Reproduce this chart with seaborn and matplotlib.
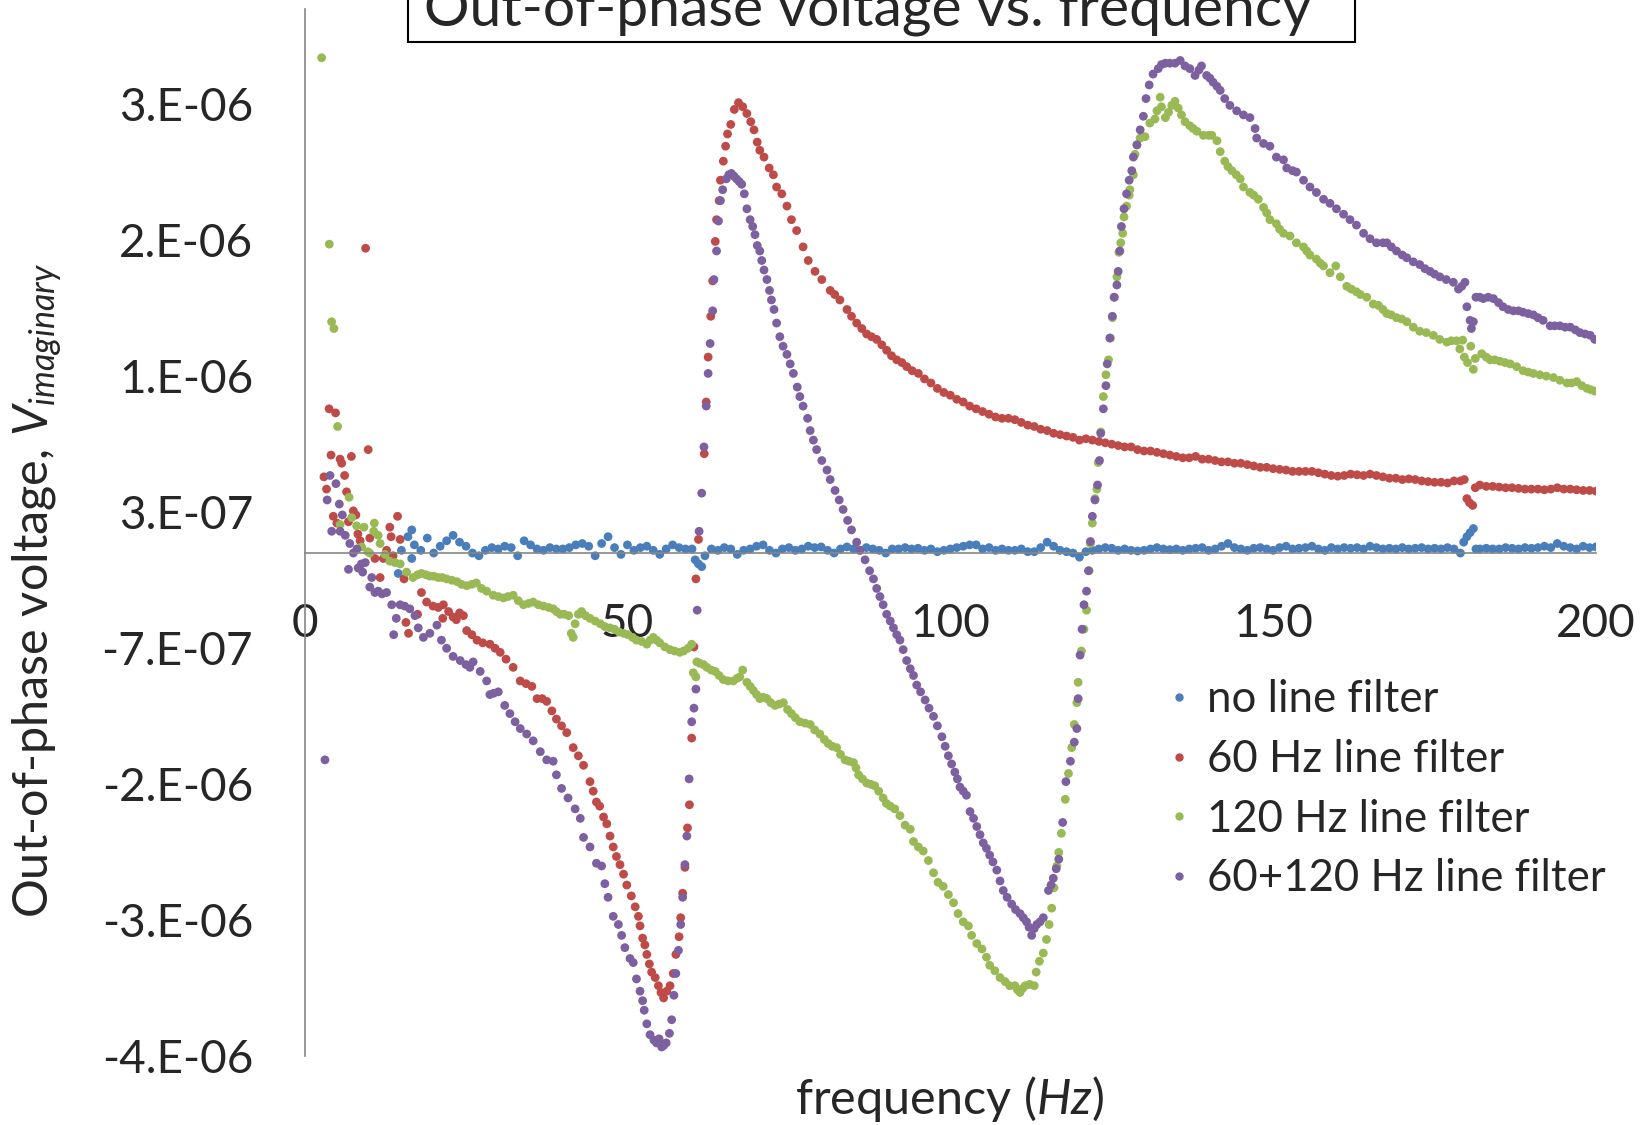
"""Out-of-phase voltage vs. frequency for four line-filter settings (lock-in sweep)."""
import pandas as pd
import matplotlib
matplotlib.use("Agg")
import matplotlib.pyplot as plt
import seaborn as sns
from matplotlib.lines import Line2D
from matplotlib.patches import Rectangle

# frequency in Hz, out-of-phase voltage in microvolts
blue_f = [
    15, 16, 17, 18, 19, 20, 21, 22, 23, 24,
    25, 26, 27, 28, 29, 30, 31, 32, 33, 34,
    35, 36, 37, 38, 39, 40, 41, 42, 43, 44,
    45, 46, 47, 48, 49, 50, 51, 52, 53, 54,
    55, 56, 57, 58, 59, 60, 61, 62, 63, 64,
    65, 66, 67, 68, 69, 70, 71, 72, 73, 74,
    75, 76, 77, 78, 79, 80, 81, 82, 83, 84,
    85, 86, 87, 88, 89, 90, 91, 92, 93, 94,
    95, 96, 97, 98, 99, 100, 101, 102, 103, 104,
    105, 106, 107, 108, 109, 110, 111, 112, 113, 114,
    115, 116, 117, 118, 119, 120, 121, 122, 123, 124,
    125, 126, 127, 128, 129, 130, 131, 132, 133, 134,
    135, 136, 137, 138, 139, 140, 141, 142, 143, 144,
    145, 146, 147, 148, 149, 150, 151, 152, 153, 154,
    155, 156, 157, 158, 159, 160, 161, 162, 163, 164,
    165, 166, 167, 168, 169, 170, 171, 172, 173, 174,
    175, 176, 177, 178, 179, 180, 181, 182, 183, 184,
    185, 186, 187, 188, 189, 190, 191, 192, 193, 194,
    195, 196, 197, 198, 199, 200,
    14.5, 16.6, 16.6, 60.5, 61.5, 179.5, 180.5, 181.4,
]
blue_v = [
    0.02, 0.12, 0.06, 0.02, 0.11, 0.00, 0.05, 0.09, 0.13, 0.08,
    0.05, 0.00, -0.02, 0.02, 0.04, 0.03, 0.05, 0.04, -0.02, 0.09,
    0.06, 0.03, 0.02, 0.04, 0.03, 0.03, 0.04, 0.06, 0.07, 0.05,
    -0.02, 0.07, 0.12, 0.04, -0.01, 0.06, 0.02, 0.04, 0.05, 0.02,
    -0.01, 0.03, 0.06, 0.04, 0.03, 0.03, -0.08, -0.02, 0.03, 0.02,
    0.04, 0.03, -0.01, 0.02, 0.03, 0.05, 0.06, 0.02, 0.00, 0.03,
    0.04, 0.02, 0.03, 0.05, 0.04, 0.045, 0.02, 0.00, 0.03, 0.045,
    0.03, 0.02, 0.04, 0.03, 0.02, 0.00, 0.03, 0.03, 0.04, 0.03,
    0.035, 0.02, 0.03, 0.01, 0.02, 0.03, 0.04, 0.05, 0.06, 0.06,
    0.03, 0.04, 0.02, 0.03, 0.02, 0.02, 0.03, 0.01, 0.01, 0.04,
    0.08, 0.05, 0.02, 0.01, 0.00, -0.03, 0.01, 0.02, 0.03, 0.04,
    0.035, 0.02, 0.03, 0.02, 0.015, 0.02, 0.03, 0.04, 0.03, 0.025,
    0.03, 0.02, 0.03, 0.035, 0.04, 0.02, 0.03, 0.05, 0.07, 0.04,
    0.03, 0.02, 0.035, 0.04, 0.03, 0.02, 0.04, 0.05, 0.03, 0.035,
    0.04, 0.05, 0.03, 0.02, 0.04, 0.03, 0.04, 0.035, 0.04, 0.03,
    0.05, 0.04, 0.03, 0.035, 0.03, 0.04, 0.03, 0.035, 0.04, 0.03,
    0.035, 0.03, 0.04, 0.03, 0.00, 0.12, 0.18, 0.03, 0.035, 0.03,
    0.03, 0.04, 0.035, 0.03, 0.04, 0.035, 0.04, 0.05, 0.04, 0.07,
    0.05, 0.04, 0.03, 0.05, 0.04, 0.045,
    -0.15, 0.17, -0.04, -0.05, -0.10, 0.08, 0.15, 0.03,
]

red_f = [
    3.0, 3.4, 3.8, 4.1, 4.45, 4.8, 5.0, 5.5, 5.75, 6.2,
    6.5, 6.8, 7.25, 7.55, 7.95, 8.25, 8.6, 9.45, 9.85, 10.1,
    10.9, 11.7, 12.2, 12.7, 13.2, 13.4, 13.7, 14.4, 14.8, 15.4,
    15.7, 16.1, 17.5, 18.1, 18.9, 19.9, 20.7, 21.4, 21.5, 22.3,
    23.0, 23.5, 24.0, 24.6, 25.1, 25.9, 26.7, 27.6, 28.7, 29.5,
    30.3, 31.2, 32.3, 33.4, 34.3, 35.2, 36.0, 36.8, 37.5, 38.3,
    39.0, 39.8, 40.6, 41.6, 42.4, 43.2, 44.2, 44.7, 45.2, 45.7,
    46.3, 46.8, 47.3, 47.8, 48.3, 48.85, 49.4, 49.9, 50.6, 51.2,
    51.7, 51.95, 52.35, 52.7, 53.0, 53.4, 53.75, 54.3, 54.8, 55.2,
    55.6, 56.1, 56.6, 57.1, 57.5, 58.0, 58.25, 58.55, 58.9, 59.3,
    59.6, 59.95, 60.3, 60.6, 61.0, 61.9, 62.2, 62.5, 62.9, 63.2,
    63.6, 63.8, 64.2, 64.4, 64.85, 65.2, 65.5, 66.0, 66.55, 67.2,
    67.85, 68.5, 69.1, 69.6, 70.1, 70.5, 71.15, 71.95, 72.6, 73.1,
    73.9, 74.7, 75.4, 76.2, 77.2, 78.0, 79.05, 80.1, 81.4, 82.1,
    82.9, 84.0, 84.7, 85.5, 86.3, 87.05, 87.8, 88.6, 89.4, 90.15,
    90.9, 91.7, 92.5, 93.25, 94.1, 95.05, 96, 97, 98, 99,
    100, 101, 102, 103, 104, 105, 106, 107, 108, 109,
    110, 111, 112, 113, 114, 115, 116, 117, 118, 119,
    120, 121, 122, 123, 124, 125, 126, 127, 128, 129,
    130, 131, 132, 133, 134, 135, 136, 137, 138, 139,
    140, 141, 142, 143, 144, 145, 146, 147, 148, 149,
    150, 151, 152, 153, 154, 155, 156, 157, 158, 159,
    160, 161, 162, 163, 164, 165, 166, 167, 168, 169,
    170, 171, 172, 173, 174, 175, 176, 177, 178, 179,
    179.6, 180.0, 180.4, 180.9, 181.3,
    182, 183, 184, 185, 186, 187, 188, 189, 190, 191,
    192, 193, 194, 195, 196, 197, 198, 199, 200,
]
red_v = [
    0.56, 0.47, 1.06, 0.72, 0.27, 1.03, 0.22, 0.69, 0.66, 0.57,
    0.45, 0.23, 0.71, 0.31, 0.28, 0.14, 0.09, 2.24, 0.76, 0.11,
    -0.04, -0.18, -0.04, 0.02, 0.19, 0.12, -0.02, 0.27, 0.10, -0.19,
    -0.51, -0.59, -0.45, -0.29, -0.36, -0.39, -0.40, -0.48, -0.38, -0.43,
    -0.47, -0.49, -0.44, -0.46, -0.57, -0.60, -0.64, -0.66, -0.67, -0.70,
    -0.73, -0.78, -0.84, -0.94, -0.96, -0.98, -1.07, -1.07, -1.09, -1.16,
    -1.22, -1.27, -1.32, -1.43, -1.49, -1.56, -1.68, -1.75, -1.83, -1.86,
    -1.94, -1.99, -2.08, -2.16, -2.23, -2.29, -2.36, -2.44, -2.52, -2.60,
    -2.67, -2.74, -2.83, -2.88, -2.95, -3.02, -3.08, -3.12, -3.18, -3.23,
    -3.27, -3.22, -3.18, -3.09, -2.95, -2.82, -2.68, -2.50, -2.31, -2.02,
    -1.85, -1.36, -0.69, -0.19, 0.10, 0.73, 1.11, 1.44, 1.74, 2.00,
    2.29, 2.45, 2.59, 2.74, 2.88, 2.99, 3.08, 3.15, 3.26, 3.31,
    3.28, 3.23, 3.17, 3.11, 3.02, 2.96, 2.91, 2.83, 2.78, 2.69,
    2.64, 2.55, 2.45, 2.37, 2.25, 2.15, 2.07, 2.01, 1.93, 1.90,
    1.86, 1.79, 1.74, 1.69, 1.65, 1.61, 1.59, 1.57, 1.53, 1.49,
    1.45, 1.42, 1.40, 1.37, 1.34, 1.32, 1.28, 1.25, 1.21, 1.18,
    1.16, 1.13, 1.11, 1.08, 1.06, 1.04, 1.02, 1.00, 0.99, 0.99,
    0.98, 0.96, 0.94, 0.93, 0.91, 0.90, 0.88, 0.87, 0.86, 0.85,
    0.83, 0.84, 0.83, 0.82, 0.81, 0.80, 0.79, 0.78, 0.78, 0.76,
    0.75, 0.75, 0.74, 0.73, 0.72, 0.71, 0.70, 0.70, 0.71, 0.69,
    0.69, 0.68, 0.67, 0.67, 0.66, 0.66, 0.65, 0.64, 0.63, 0.63,
    0.62, 0.615, 0.61, 0.60, 0.60, 0.60, 0.60, 0.59, 0.58, 0.57,
    0.565, 0.57, 0.58, 0.575, 0.57, 0.58, 0.57, 0.56, 0.55, 0.55,
    0.54, 0.545, 0.54, 0.53, 0.525, 0.52, 0.52, 0.515, 0.53, 0.53,
    0.54, 0.40, 0.37, 0.35, 0.48,
    0.50, 0.49, 0.49, 0.485, 0.48, 0.48, 0.475, 0.47, 0.47, 0.47,
    0.465, 0.47, 0.48, 0.47, 0.47, 0.465, 0.46, 0.46, 0.455,
]

green_f = [
    2.64, 3.83, 4.19, 4.55, 5.12, 5.5, 6.9, 7.3, 8.06, 8.84,
    9.2, 9.8, 10.1, 10.7, 10.8, 11.4, 11.7, 12.45, 13.2, 14.0,
    14.8, 15.8, 16.8, 17.5, 18.1, 18.8, 19.4, 20.0, 20.7, 21.3,
    22.0, 22.8, 23.6, 24.3, 25.1, 25.9, 26.6, 27.4, 28.2, 29.2,
    30.0, 30.8, 31.5, 32.3, 33.1, 33.9, 34.7, 35.4, 36.2, 37.0,
    37.8, 38.5, 39.0, 39.6, 40.2, 40.9, 41.3, 41.6, 41.9, 42.4,
    42.9, 43.5, 44.2, 45.0, 45.8, 46.5, 47.3, 48.0, 48.7, 49.4,
    50.1, 50.8, 51.4, 52.2, 53.0, 53.5, 54.0, 54.5, 55.0, 55.8,
    56.6, 57.3, 58.1, 58.7, 59.4, 59.95, 60.2, 60.6, 60.75, 61.2,
    61.8, 62.3, 63.0, 63.6, 64.2, 64.85, 65.6, 66.4, 67.0, 67.4,
    67.85, 68.5, 69.0, 69.5, 70.0, 70.5, 71.0, 71.6, 72.2, 72.85,
    73.5, 74.15, 74.8, 75.4, 76.0, 76.7, 77.5, 78.3, 79.0, 79.8,
    80.5, 81.1, 81.7, 82.4, 83.0, 83.7, 84.3, 85.0, 85.4, 85.8,
    86.4, 87.05, 87.7, 88.3, 88.9, 89.6, 90.1, 90.7, 91.4, 92.2,
    93.0, 93.8, 94.3, 95.05, 95.8, 96.6, 97.4, 98.1, 98.9, 99.7,
    100.5, 101.2, 102.0, 102.8, 103.3, 104.1, 104.9, 105.6, 106.1, 106.9,
    107.7, 108.5, 109.2, 110.0, 110.4, 110.8, 111.2, 111.6, 112.3, 113.0,
    113.3, 113.8, 114.4, 114.9, 115.3, 115.7, 116.05, 116.5, 116.8, 117.2,
    117.8, 118.3, 118.8, 119.2, 119.6, 119.8, 120.3, 120.7, 121.1, 121.5,
    121.7, 122.0, 122.4, 122.7, 122.9, 123.3, 123.7, 124.1, 124.5, 124.8,
    125.1, 125.35, 125.8, 126.1, 126.4, 126.7, 126.9, 127.3, 127.7, 127.8,
    128.35, 128.6, 128.9, 129.4, 130.15, 130.9, 131.7, 132.0, 132.5, 132.7,
    133.3, 133.8, 134.3, 134.8, 135.3, 135.8, 136.35, 137.1, 137.6, 138.2,
    139.2, 140.0, 140.5, 141.3, 141.8, 142.5, 143.0, 143.6, 144.3, 144.9,
    145.4, 146.4, 147.0, 147.7, 148.5, 149.0, 149.5, 150.5, 151.0, 151.6,
    152.6, 153.6, 154.7, 155.2, 155.7, 156.7, 157.3, 157.8, 158.8, 159.7,
    160.4, 161.4, 162.1, 162.9, 163.5, 164.5, 165.5, 166.3, 167.0, 167.6,
    168.3, 169.1, 169.9, 170.7, 171.7, 172.7, 173.7, 174.8, 175.8, 176.9,
    177.6, 178.4, 178.9, 179.35, 179.6, 180.1, 180.6, 181.0, 181.3, 182.3,
    183.0, 183.6, 184.3, 185.1, 185.9, 186.7, 187.7, 188.7, 189.5, 190.3,
    191.3, 192.3, 193.4, 194.4, 195.5, 196.2, 197.0, 197.8, 198.6, 199.2,
    199.8,
]
green_v = [
    3.64, 2.27, 1.70, 1.65, 0.93, 0.21, 0.41, 0.26, 0.20, 0.045,
    0.19, 0.01, 0.00, 0.16, 0.22, 0.13, 0.07, -0.01, -0.06, -0.07,
    -0.08, -0.14, -0.18, -0.16, -0.15, -0.16, -0.17, -0.17, -0.18, -0.18,
    -0.19, -0.20, -0.21, -0.23, -0.24, -0.23, -0.22, -0.26, -0.28, -0.31,
    -0.32, -0.33, -0.32, -0.31, -0.35, -0.38, -0.37, -0.36, -0.38, -0.39,
    -0.40, -0.41, -0.43, -0.45, -0.45, -0.46, -0.59, -0.62, -0.52, -0.45,
    -0.43, -0.46, -0.48, -0.50, -0.52, -0.54, -0.55, -0.56, -0.58, -0.59,
    -0.60, -0.62, -0.64, -0.65, -0.67, -0.64, -0.62, -0.64, -0.66, -0.69,
    -0.71, -0.72, -0.73, -0.72, -0.70, -0.67, -0.88, -0.91, -0.80, -0.81,
    -0.82, -0.84, -0.86, -0.87, -0.90, -0.93, -0.94, -0.94, -0.92, -0.91,
    -0.86, -0.95, -0.98, -1.01, -1.04, -1.07, -1.06, -1.07, -1.10, -1.12,
    -1.11, -1.10, -1.15, -1.18, -1.21, -1.24, -1.25, -1.26, -1.30, -1.33,
    -1.37, -1.40, -1.42, -1.43, -1.48, -1.52, -1.53, -1.54, -1.58, -1.63,
    -1.66, -1.69, -1.70, -1.71, -1.75, -1.80, -1.84, -1.86, -1.88, -1.93,
    -2.00, -2.03, -2.12, -2.16, -2.19, -2.26, -2.35, -2.42, -2.45, -2.51,
    -2.57, -2.65, -2.71, -2.74, -2.81, -2.87, -2.91, -2.97, -3.03, -3.07,
    -3.12, -3.15, -3.18, -3.18, -3.21, -3.23, -3.20, -3.18, -3.17, -3.18,
    -3.08, -3.00, -2.94, -2.84, -2.73, -2.61, -2.46, -2.30, -2.20, -2.06,
    -1.81, -1.62, -1.43, -1.26, -1.10, -0.95, -0.72, -0.56, -0.42, -0.13,
    0.07, 0.22, 0.40, 0.47, 0.665, 0.89, 1.15, 1.31, 1.42, 1.58,
    1.73, 1.88, 2.03, 2.21, 2.28, 2.35, 2.47, 2.55, 2.63, 2.67,
    2.78, 2.93, 3.00, 3.05, 3.06, 3.16, 3.19, 3.25, 3.35, 3.28,
    3.20, 3.24, 3.29, 3.32, 3.27, 3.22, 3.17, 3.14, 3.12, 3.10,
    3.07, 3.07, 3.07, 3.03, 2.95, 2.88, 2.84, 2.81, 2.78, 2.75,
    2.69, 2.65, 2.63, 2.60, 2.54, 2.50, 2.45, 2.42, 2.38, 2.35,
    2.33, 2.28, 2.25, 2.22, 2.19, 2.16, 2.13, 2.11, 2.06, 2.11,
    2.03, 1.96, 1.94, 1.92, 1.90, 1.88, 1.83, 1.82, 1.79, 1.76,
    1.75, 1.73, 1.72, 1.70, 1.66, 1.63, 1.62, 1.60, 1.57, 1.55,
    1.56, 1.56, 1.50, 1.565, 1.44, 1.40, 1.52, 1.35, 1.43, 1.465,
    1.44, 1.42, 1.42, 1.41, 1.40, 1.39, 1.37, 1.34, 1.33, 1.32,
    1.31, 1.30, 1.29, 1.27, 1.25, 1.25, 1.26, 1.23, 1.21, 1.20,
    1.19,
]

purple_f = [
    3.16, 3.5, 3.94, 4.2, 4.86, 5.38, 5.5, 5.85, 6.3, 6.8,
    7.0, 7.55, 8.1, 8.3, 8.8, 9.0, 9.4, 10.1, 10.4, 10.9,
    11.4, 12.0, 12.7, 13.5, 13.8, 14.2, 14.8, 15.5, 16.3, 17.1,
    17.6, 18.4, 19.4, 20.5, 21.2, 22.0, 23.0, 24.1, 25.0, 25.6,
    26.1, 27.2, 28.2, 28.7, 29.3, 30.0, 31.0, 31.8, 32.6, 33.4,
    34.4, 35.4, 36.5, 37.5, 38.5, 39.0, 39.8, 40.8, 41.9, 42.7,
    43.2, 44.2, 45.2, 46.0, 46.5, 47.0, 47.8, 48.6, 49.1, 49.6,
    50.4, 50.9, 51.4, 51.95, 52.35, 52.6, 53.0, 53.5, 54.1, 54.5,
    54.9, 55.3, 55.6, 56.0, 56.5, 56.85, 57.2, 57.5, 57.9, 58.25,
    58.55, 58.9, 59.2, 59.55, 59.95, 60.3, 60.6, 60.8, 61.1, 61.5,
    61.85, 62.2, 62.5, 62.8, 63.2, 63.4, 63.8, 64.1, 64.4, 64.75,
    65.3, 65.7, 66.1, 66.5, 66.9, 67.3, 67.7, 68.1, 68.5, 69.0,
    69.4, 69.75, 70.1, 70.5, 70.8, 71.15, 71.6, 72.0, 72.3, 72.7,
    73.1, 73.6, 74.1, 74.7, 75.2, 75.7, 76.3, 76.7, 77.2, 77.9,
    78.3, 78.8, 79.3, 80.1, 80.9, 81.4, 82.15, 82.8, 83.4, 84.1,
    84.7, 85.5, 86.0, 86.8, 87.5, 88.1, 88.6, 89.1, 89.6, 90.15,
    90.7, 91.2, 91.7, 92.2, 92.7, 93.25, 93.8, 94.3, 94.8, 95.4,
    96.1, 96.7, 97.4, 98.0, 98.7, 99.2, 99.7, 100.2, 100.7, 101.1,
    101.5, 102.0, 102.5, 103.05, 103.6, 104.1, 104.6, 105.1, 105.6, 106.1,
    106.6, 107.2, 107.7, 108.2, 108.8, 109.5, 110.1, 110.8, 111.3, 111.8,
    112.2, 112.6, 113.0, 113.4, 113.9, 114.4, 115.2, 115.6, 115.95, 116.4,
    116.8, 117.4, 117.9, 118.6, 119.2, 119.6, 119.8, 120.1, 120.4, 120.7,
    121.1, 121.4, 121.7, 122.0, 122.4, 122.8, 123.1, 123.3, 123.7, 124.1,
    124.3, 124.7, 125.1, 125.4, 125.8, 126.0, 126.25, 126.5, 126.9, 127.3,
    127.7, 128.1, 128.35, 128.9, 129.4, 129.9, 130.3, 130.8, 131.4, 132.2,
    132.7, 133.3, 134.0, 134.8, 135.6, 136.35, 137.1, 137.9, 138.5, 138.9,
    139.7, 140.2, 140.7, 141.3, 141.8, 142.5, 143.3, 144.35, 145.4, 146.4,
    147.2, 147.45, 148.5, 149.5, 150.5, 151.6, 152.1, 153.0, 153.6, 154.7,
    155.7, 156.7, 157.8, 158.8, 159.8, 160.9, 161.9, 162.9, 164.0, 165.0,
    166.0, 167.0, 167.6, 168.3, 169.1, 170.0, 170.7, 171.7, 172.7, 173.5,
    174.3, 175.0, 175.8, 176.8, 177.9, 178.7, 179.2, 179.7, 180.0, 180.5,
    180.7, 181.0, 181.4, 182.0, 182.55, 183.3, 184.1, 184.9, 185.6, 186.4,
    187.2, 188.0, 188.7, 189.5, 190.3, 191.0, 191.8, 192.9, 193.6, 194.4,
    195.2, 196.0, 196.8, 197.5, 198.3, 199.1, 199.8,
]
purple_v = [
    -1.52, 0.39, 0.57, 0.16, 0.51, 0.36, 0.16, 0.28, 0.13, -0.12,
    0.07, 0.00, 0.03, -0.11, -0.08, -0.14, -0.07, -0.25, -0.18, -0.29,
    -0.28, -0.30, -0.29, -0.38, -0.60, -0.48, -0.38, -0.39, -0.41, -0.46,
    -0.55, -0.62, -0.59, -0.53, -0.64, -0.70, -0.76, -0.79, -0.82, -0.84,
    -0.80, -0.87, -0.94, -1.04, -1.03, -1.02, -1.12, -1.18, -1.24, -1.29,
    -1.33, -1.38, -1.46, -1.52, -1.53, -1.63, -1.73, -1.80, -1.88, -1.95,
    -2.09, -2.16, -2.28, -2.30, -2.43, -2.53, -2.67, -2.73, -2.81, -2.90,
    -2.98, -3.01, -3.13, -3.22, -3.29, -3.36, -3.46, -3.54, -3.58, -3.60,
    -3.57, -3.63, -3.62, -3.60, -3.53, -3.43, -3.25, -3.09, -2.92, -2.73,
    -2.53, -2.29, -2.08, -1.66, -1.24, -1.14, -1.00, -0.42, 0.16, 0.44,
    0.78, 1.08, 1.32, 1.54, 1.78, 2.01, 2.22, 2.44, 2.59, 2.67,
    2.75, 2.78, 2.79, 2.77, 2.75, 2.73, 2.71, 2.64, 2.53, 2.45,
    2.40, 2.34, 2.26, 2.22, 2.15, 2.08, 2.01, 1.93, 1.86, 1.79,
    1.69, 1.59, 1.52, 1.46, 1.39, 1.32, 1.22, 1.15, 1.08, 0.99,
    0.90, 0.83, 0.76, 0.68, 0.61, 0.54, 0.46, 0.39, 0.32, 0.24,
    0.17, 0.08, 0.02, -0.05, -0.13, -0.19, -0.26, -0.32, -0.38, -0.45,
    -0.50, -0.55, -0.60, -0.64, -0.71, -0.79, -0.85, -0.90, -0.97, -1.02,
    -1.08, -1.14, -1.20, -1.27, -1.35, -1.42, -1.49, -1.55, -1.61, -1.66,
    -1.72, -1.75, -1.78, -1.90, -1.95, -2.01, -2.07, -2.13, -2.17, -2.22,
    -2.27, -2.33, -2.41, -2.48, -2.53, -2.58, -2.62, -2.65, -2.68, -2.71,
    -2.75, -2.81, -2.76, -2.73, -2.71, -2.68, -2.48, -2.44, -2.39, -2.32,
    -2.25, -1.98, -1.68, -1.53, -1.39, -1.29, -1.07, -0.75, -0.56, -0.38,
    -0.28, -0.13, 0.085, 0.27, 0.39, 0.50, 0.68, 0.88, 1.06, 1.23,
    1.39, 1.58, 1.74, 1.88, 1.97, 2.07, 2.22, 2.40, 2.53, 2.64,
    2.74, 2.81, 2.91, 3.00, 3.11, 3.21, 3.34, 3.44, 3.52, 3.56,
    3.59, 3.60, 3.60, 3.60, 3.62, 3.58, 3.56, 3.51, 3.55, 3.58,
    3.51, 3.49, 3.46, 3.43, 3.40, 3.34, 3.29, 3.25, 3.22, 3.20,
    3.12, 3.05, 3.01, 2.99, 2.91, 2.89, 2.83, 2.81, 2.80, 2.74,
    2.69, 2.65, 2.60, 2.57, 2.53, 2.49, 2.45, 2.41, 2.35, 2.31,
    2.28, 2.28, 2.28, 2.25, 2.22, 2.19, 2.17, 2.14, 2.12, 2.09,
    2.07, 2.05, 2.03, 2.01, 1.99, 1.94, 1.96, 1.99, 1.81, 1.71,
    1.65, 1.70, 1.88, 1.88, 1.87, 1.88, 1.87, 1.84, 1.81, 1.79,
    1.78, 1.78, 1.77, 1.76, 1.75, 1.73, 1.71, 1.67, 1.67, 1.67,
    1.66, 1.66, 1.64, 1.62, 1.61, 1.60, 1.57,
]

labels = ["no line filter", "60 Hz line filter", "120 Hz line filter", "60+120 Hz line filter"]
colors = ["#4A7EBB", "#BE4B48", "#98B954", "#7D60A0"]

# Excel-style axis: min -3.7e-6, major unit 1e-6, labels rounded to 0.E+00
ytick_pos = [-3.7, -2.7, -1.7, -0.7, 0.3, 1.3, 2.3, 3.3]
ytick_lab = ["-4.E-06", "-3.E-06", "-2.E-06", "-7.E-07", "3.E-07", "1.E-06", "2.E-06", "3.E-06"]
xtick_pos = [0, 50, 100, 150, 200]

sns.set_style("white")
plt.rcParams["font.family"] = ["Lato", "DejaVu Sans"]
plt.rcParams["mathtext.fontset"] = "custom"
plt.rcParams["mathtext.rm"] = "Lato"
plt.rcParams["mathtext.it"] = "Lato:italic"


def main():
    frames = []
    for name, f, v in zip(labels, [blue_f, red_f, green_f, purple_f],
                          [blue_v, red_v, green_v, purple_v]):
        frames.append(pd.DataFrame({"freq": f, "volt": v, "series": name}))
    df = pd.concat(frames, ignore_index=True)

    fig = plt.figure(figsize=(16.41, 11.25), dpi=100)
    ax = fig.add_axes([0.1856, 0.0609, 0.787, 0.9313])
    sns.scatterplot(data=df, x="freq", y="volt", hue="series", hue_order=labels,
                    palette=colors, s=40, linewidth=0, legend=False, ax=ax)
    ax.set_xlim(0, 200)
    ax.set_ylim(-3.7, 4.0)
    ax.set_xlabel("")
    ax.set_ylabel("")

    for side in ["top", "right"]:
        ax.spines[side].set_visible(False)
    ax.spines["bottom"].set_position(("data", 0))
    for side in ["left", "bottom"]:
        ax.spines[side].set_color("#868686")
        ax.spines[side].set_linewidth(1.2)

    ax.set_yticks(ytick_pos)
    ax.set_yticklabels(ytick_lab)
    ax.set_xticks(xtick_pos)
    ax.set_xticklabels([str(t) for t in xtick_pos])
    ax.tick_params(axis="y", length=0, pad=37, labelsize=33)
    ax.tick_params(axis="x", length=0, pad=36, labelsize=33)

    # axis titles placed like the original slide
    fig.text(37 / 1641, 1 - 591 / 1125, "Out-of-phase voltage, $V_{imaginary}$",
             rotation=90, ha="center", va="center", fontsize=35)
    fig.text(950 / 1641, 1 - 1099 / 1125, "frequency ($Hz$)",
             ha="center", va="center", fontsize=35)

    # chart title box, cut off by the top edge in the original
    box = Rectangle((408 / 1641, 1 - 42 / 1125), (1355 - 408) / 1641, 0.2,
                    transform=fig.transFigure, facecolor="white", edgecolor="black",
                    linewidth=1.5, clip_on=False)
    fig.add_artist(box)
    fig.text(868 / 1641, 1 - 26 / 1125, "Out-of-phase voltage vs. frequency",
             ha="center", va="baseline", fontsize=41)

    handles = [Line2D([], [], marker="o", ls="", color=c, markersize=5) for c in colors]
    ax.legend(handles, labels, loc="upper left", bbox_to_anchor=(1166 / 1641, 1 - 679 / 1125),
              bbox_transform=fig.transFigure, frameon=False, fontsize=31.5,
              handlelength=0.6, handletextpad=0.33, labelspacing=0.43,
              borderpad=0, borderaxespad=0)

    fig.savefig("out.png", dpi=100)


if __name__ == "__main__":
    main()
